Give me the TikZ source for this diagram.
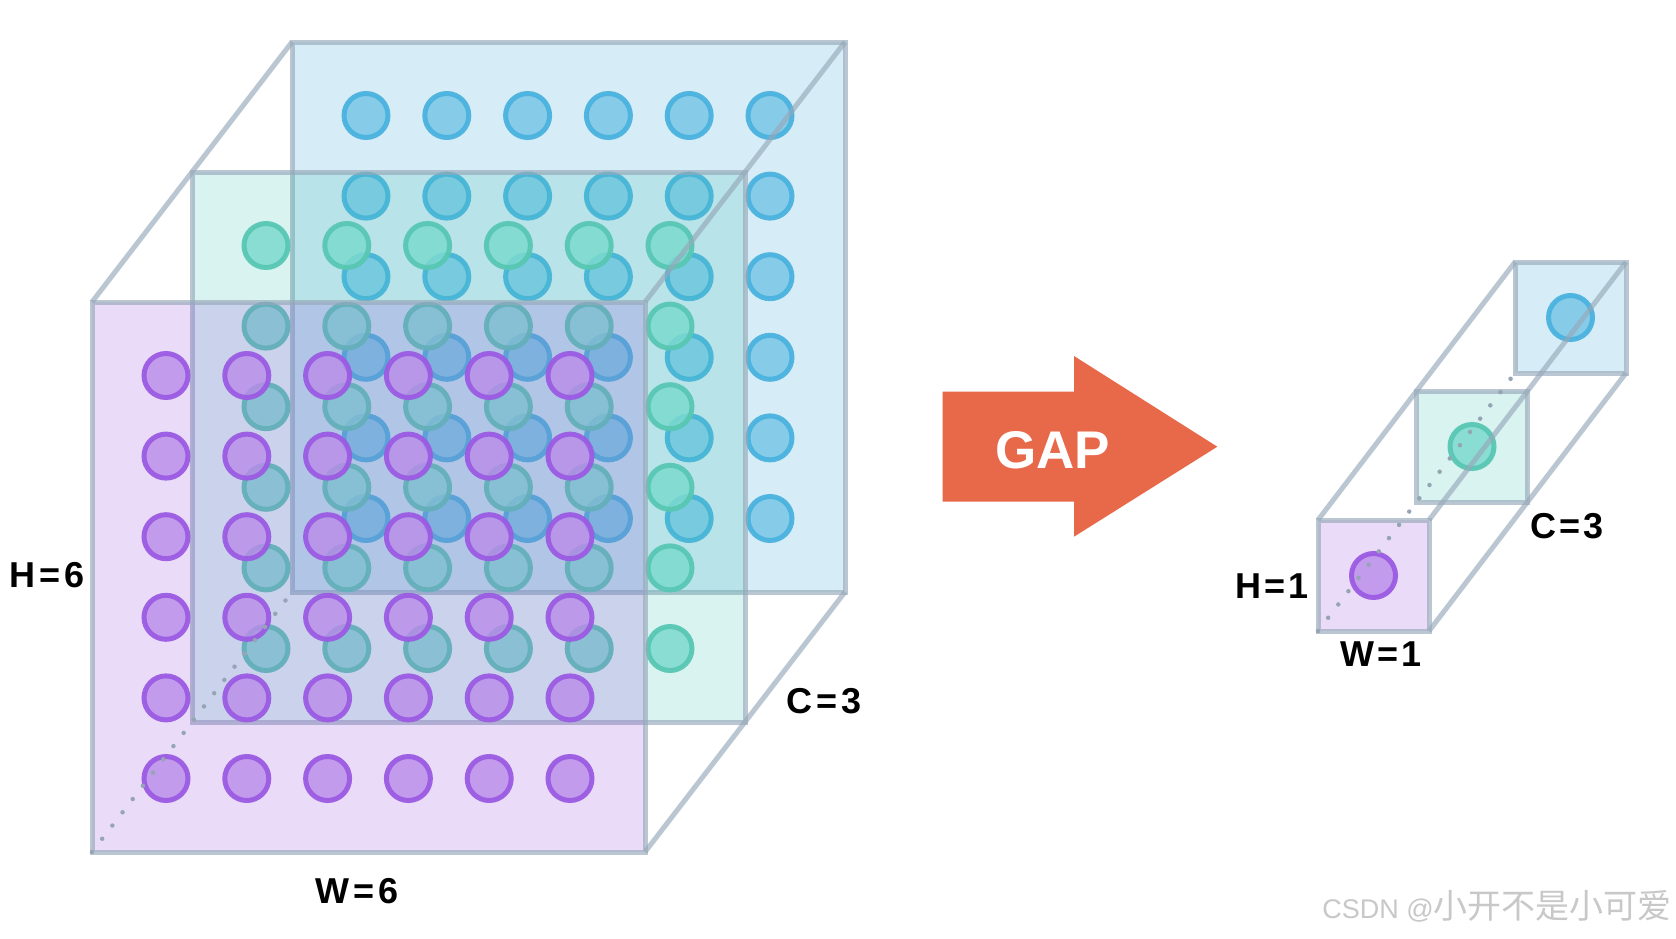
\documentclass[tikz,border=0pt]{standalone}
\usepackage{fontspec}
\setmainfont{Liberation Sans}
\newfontfamily\cjk{Noto Sans CJK SC}
\definecolor{edgec}{RGB}{150,168,185}
\definecolor{dotc}{RGB}{150,165,180}
\definecolor{bplane}{RGB}{50,165,215}
\definecolor{tplane}{RGB}{65,195,180}
\definecolor{pplane}{RGB}{150,80,220}
\definecolor{bstroke}{RGB}{74,178,223}
\definecolor{bfill}{RGB}{120,199,231}
\definecolor{tstroke}{RGB}{88,199,179}
\definecolor{tfill}{RGB}{124,218,206}
\definecolor{pstroke}{RGB}{155,91,227}
\definecolor{pfill}{RGB}{186,139,233}
\definecolor{arrowc}{RGB}{232,104,74}
\definecolor{wmc}{RGB}{200,200,200}
\begin{document}
\begin{tikzpicture}[x=1pt,y=-1pt,
  edge/.style={draw=edgec, draw opacity=0.65, line width=5pt},
  dotline/.style={draw=dotc, line width=4.5pt, line cap=round, dash pattern=on 0pt off 16.7pt},
  plane/.style={fill=#1, fill opacity=0.2},
  bcirc/.style={draw=bstroke, fill=bfill, line width=5pt, fill opacity=0.85, draw opacity=0.95},
  tcirc/.style={draw=tstroke, fill=tfill, line width=5pt, fill opacity=0.85, draw opacity=0.95},
  pcirc/.style={draw=pstroke, fill=pfill, line width=5pt, fill opacity=0.8, draw opacity=0.95},
  lab/.style={font=\fontsize{36}{40}\selectfont\bfseries, text=black, inner sep=0pt, anchor=base}]
\useasboundingbox (0,0) rectangle (1676,938);
\fill[white] (0,0) rectangle (1676,938);

% ---------- left: 6x6x3 feature map ----------
\coordinate (bTL) at (292,42);  \coordinate (bBR) at (845,592);
\coordinate (bTR) at (845,42);  \coordinate (bBL) at (292,592);
\coordinate (tTL) at (192,172); \coordinate (tBR) at (745,722);
\coordinate (pTL) at (92,302);  \coordinate (pBR) at (645,852);
\coordinate (pTR) at (645,302); \coordinate (pBL) at (92,852);

\fill[plane=bplane] (bTL) rectangle (bBR);
\foreach \i in {0,...,5}\foreach \j in {0,...,5}
  \draw[bcirc] ({292+74+80.8*\i},{42+73.5+80.6*\j}) circle[radius=22pt];
\draw[edge] (bTL) rectangle (bBR);

\fill[plane=tplane] (tTL) rectangle (tBR);
\foreach \i in {0,...,5}\foreach \j in {0,...,5}
  \draw[tcirc] ({192+74+80.8*\i},{172+73.5+80.6*\j}) circle[radius=22pt];
\draw[edge] (tTL) rectangle (tBR);

\fill[plane=pplane] (pTL) rectangle (pBR);
\foreach \i in {0,...,5}\foreach \j in {0,...,5}
  \draw[pcirc] ({92+74+80.8*\i},{302+73.5+80.6*\j}) circle[radius=22pt];
\draw[edge] (pTL) rectangle (pBR);

\draw[edge] (pTL) -- (bTL);
\draw[edge] (pTR) -- (bTR);
\draw[edge] (pBR) -- (bBR);
\draw[dotline] (pBL) -- (bBL);

\node[lab] (h6) at (47.2,587.3) {H\hspace{4pt}=\hspace{4pt}6};
\node[lab] (w6) at (356.7,903.3) {W\hspace{4pt}=\hspace{4pt}6};
\node[lab] (c3) at (824.3,713.3) {C\hspace{4pt}=\hspace{4pt}3};

% ---------- GAP arrow ----------
\fill[arrowc] (942.7,391.7) -- (1074,391.7) -- (1074,356) -- (1217.3,446.7)
  -- (1074,536.7) -- (1074,501.7) -- (942.7,501.7) -- cycle;
\node[font=\fontsize{53}{56}\selectfont\bfseries, text=white, inner sep=0pt, anchor=base] (gap) at (1052.5,468.3) {GAP};

% ---------- right: 1x1x3 ----------
\coordinate (sbTL) at (1515,262);  \coordinate (sbBR) at (1626,373);
\coordinate (sbTR) at (1626,262);  \coordinate (sbBL) at (1515,373);
\coordinate (stTL) at (1416.5,391); \coordinate (stBR) at (1527.5,502);
\coordinate (spTL) at (1318,520);  \coordinate (spBR) at (1429,631);
\coordinate (spTR) at (1429,520);  \coordinate (spBL) at (1318,631);

\fill[plane=bplane] (sbTL) rectangle (sbBR);
\draw[bcirc] (1570.5,317.5) circle[radius=22pt];
\draw[edge] (sbTL) rectangle (sbBR);

\fill[plane=tplane] (stTL) rectangle (stBR);
\draw[tcirc] (1472,446.5) circle[radius=22pt];
\draw[edge] (stTL) rectangle (stBR);

\fill[plane=pplane] (spTL) rectangle (spBR);
\draw[pcirc] (1373.5,575.5) circle[radius=22pt];
\draw[edge] (spTL) rectangle (spBR);

\draw[edge] (spTL) -- (sbTL);
\draw[edge] (spTR) -- (sbTR);
\draw[edge] (spBR) -- (sbBR);
\draw[dotline] (spBL) -- (sbBL);

\node[lab] (h1) at (1272.5,598.3) {H\hspace{3pt}=\hspace{3pt}1};
\node[lab] (w1) at (1381.3,666.7) {W\hspace{3pt}=\hspace{3pt}1};
\node[lab] (c3s) at (1566.7,538.3) {C\hspace{3pt}=\hspace{3pt}3};

% ---------- watermark ----------
\node[anchor=base east, inner sep=0pt, text=wmc] (wm) at (1672,918)
  {\fontsize{27}{30}\selectfont CSDN @{\cjk\fontsize{34}{36}\selectfont 小开不是小可爱}};
\end{tikzpicture}
\end{document}
